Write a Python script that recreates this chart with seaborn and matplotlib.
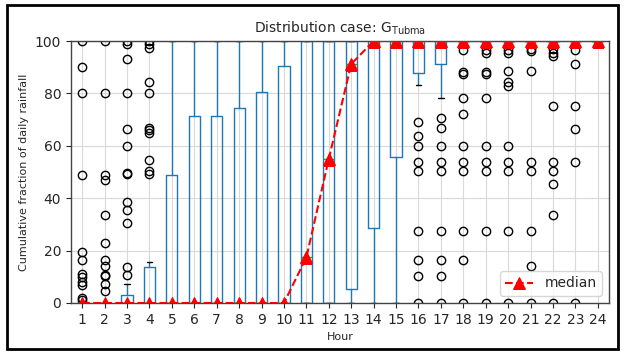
import matplotlib
matplotlib.use("Agg")
import matplotlib.pyplot as plt
import seaborn as sns
import pandas as pd
from matplotlib.patches import Rectangle
from matplotlib.path import Path

hours = list(range(1, 25))
q1 = [0, 0, 0, 0, 0, 0, 0, 0, 0, 0, 0, 0, 5.5, 28.7, 55.9, 87.7, 91.1, 100, 100, 100, 100, 100, 100, 100]
med = [0, 0, 0, 0, 0, 0, 0, 0, 0, 0, 17.4, 55.0, 91.2, 100, 100, 100, 100, 100, 100, 100, 100, 100, 100, 100]
q3 = [0, 0, 2.9, 13.6, 48.7, 71.5, 71.5, 74.3, 80.7, 90.6, 100, 100, 100, 100, 100, 100, 100, 100, 100, 100, 100, 100, 100, 100]
whislo = [0, 0, 0, 0, 0, 0, 0, 0, 0, 0, 0, 0, 0, 0, 0, 83.2, 78.1, 100, 100, 100, 100, 100, 100, 100]
whishi = [0, 0, 7.2, 15.5, 100, 100, 100, 100, 100, 100, 100, 100, 100, 100, 100, 100, 100, 100, 100, 100, 100, 100, 100, 100]
fliers = [
    [100, 90, 80, 49, 19.5, 16.5, 11, 10, 8, 7, 2, 1],
    [100, 80, 49, 47, 33.4, 22.9, 16.5, 14, 10.8, 10.2, 7.2, 4.4],
    [100, 99, 93.1, 80, 66.6, 60.1, 49.8, 49.2, 38.5, 35.6, 30.7, 13.7, 10.8],
    [100, 99, 97.2, 84.5, 80, 66.7, 66, 64.8, 54.6, 50.2, 49.2],
    [], [], [], [], [], [], [], [], [], [], [],
    [68.9, 63.8, 60.1, 54.0, 50.2, 27.4, 16.5, 10.4, 0],
    [70.5, 66.7, 60.1, 54.0, 50.2, 27.4, 16.5, 10.4, 0],
    [96.6, 88.3, 87.3, 78.1, 72.2, 60.1, 54.0, 50.2, 27.4, 16.5, 0],
    [96.6, 95.6, 88.3, 87.3, 78.1, 60.1, 54.0, 50.2, 27.4, 0],
    [96.6, 95.6, 88.6, 84.5, 82.8, 60.1, 54.0, 50.2, 27.4, 0],
    [96.8, 96.2, 88.6, 54.0, 50.2, 27.4, 14.2, 0],
    [96.8, 95.6, 94.4, 75.0, 54.0, 50.2, 45.5, 33.4, 0],
    [96.6, 91.1, 75.0, 66.6, 53.7, 0],
    [],
]

sns.set_style("ticks")
plt.rcParams['font.family'] = ['DejaVu Sans']

fig = plt.figure(figsize=(6.25, 3.55), dpi=100)
ax = fig.add_axes([0.1136, 0.1465, 0.8608, 0.738])

stats = [dict(q1=a, med=m, q3=b, whislo=lo, whishi=hi, fliers=f, label=str(h))
         for h, a, m, b, lo, hi, f in zip(hours, q1, med, q3, whislo, whishi, fliers)]
ax.bxp(stats, positions=hours, widths=0.5,
       boxprops=dict(color='#1f77b4', linewidth=1.0),
       whiskerprops=dict(color='#1f77b4', linewidth=1.0),
       capprops=dict(color='black', linewidth=1.0),
       medianprops=dict(color='#2ca02c', linewidth=1.0),
       flierprops=dict(marker='o', markerfacecolor='none', markeredgecolor='black',
                       markersize=6, markeredgewidth=1.0))

df = pd.DataFrame({'Hour': hours, 'median': med})
sns.lineplot(data=df, x='Hour', y='median', ax=ax, color='red', linestyle='--',
             marker='^', markersize=9, markeredgecolor='red', linewidth=1.5,
             label='median', zorder=5)

ax.set_xlim(0.5, 24.5)
ax.set_ylim(0, 100)
ax.set_xticks(hours)
ax.set_xticklabels([str(h) for h in hours], fontsize=10)
ax.set_yticks([0, 20, 40, 60, 80, 100])
ax.tick_params(axis='y', labelsize=10)
ax.grid(True, color='#d9d9d9', linewidth=0.8)
ax.set_axisbelow(True)
for s in ax.spines.values():
    s.set_color('#444444')
    s.set_linewidth(1.0)
ax.set_xlabel('Hour', fontsize=8)
ax.set_ylabel('Cumulative fraction of daily rainfall', fontsize=8)
ax.set_title('Distribution case: G$_{\\mathregular{Tubma}}$', fontsize=10)
ax.legend(loc='lower right', fontsize=10)

# clip markers at the axes edge like the reference (a real clip path clips markers too)
for ln in ax.lines:
    ln.set_clip_on(True)
    ln.set_clip_path(Path.unit_rectangle(), ax.transAxes)

fig.patches.append(Rectangle((0.011, 0.017), 0.978, 0.97, transform=fig.transFigure,
                             fill=False, edgecolor='black', linewidth=2))

fig.savefig('out.png', dpi=100)
